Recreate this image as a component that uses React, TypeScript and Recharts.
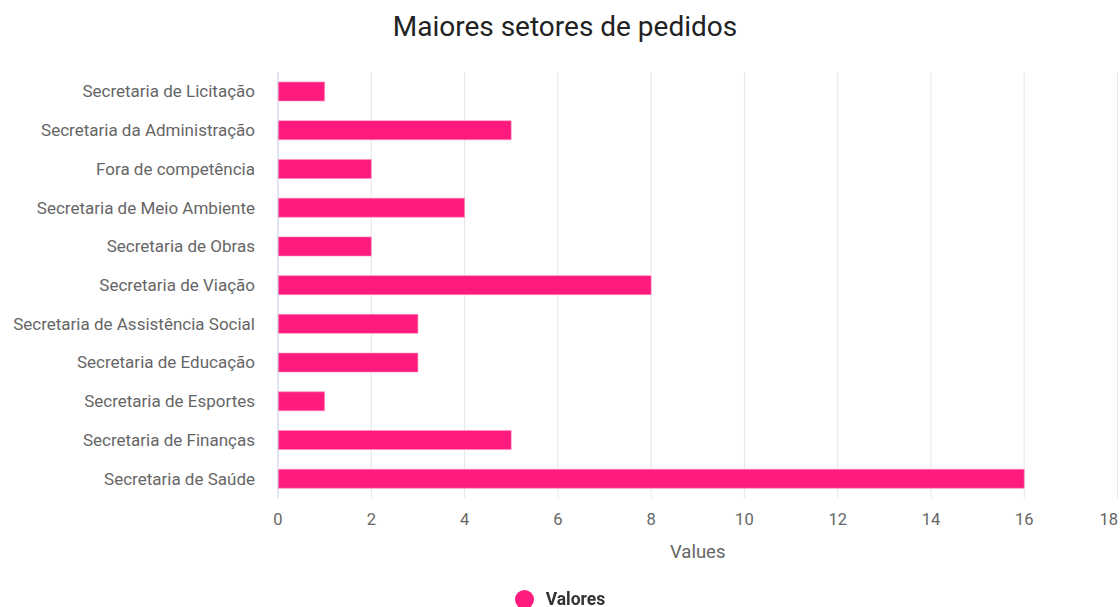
import React from "react";
import { BarChart, Bar, XAxis, YAxis, CartesianGrid, Legend } from "recharts";

const categories = [
  "Secretaria de Licitação",
  "Secretaria da Administração",
  "Fora de competência",
  "Secretaria de Meio Ambiente",
  "Secretaria de Obras",
  "Secretaria de Viação",
  "Secretaria de Assistência Social",
  "Secretaria de Educação",
  "Secretaria de Esportes",
  "Secretaria de Finanças",
  "Secretaria de Saúde",
];
const valores = [1, 5, 2, 4, 2, 8, 3, 3, 1, 5, 16];
const xTicks = [0, 2, 4, 6, 8, 10, 12, 14, 16, 18];

const data = categories.map((name, i) => ({ name, valores: valores[i] }));

const FONT = "Roboto, 'Noto Sans', sans-serif";
const PINK = "#ff1a7e";
const WIDTH = 1120;

// the last label would overflow the right edge, so pull it back inside like the original does
function XTick(props: any) {
  const { x, y, payload } = props;
  const overflow = x + 10 > WIDTH;
  return (
    <text
      x={overflow ? WIDTH - 2 : x}
      y={y}
      dy="0.71em"
      textAnchor={overflow ? "end" : "middle"}
      fill="#666"
      fontSize={16.5}
      fontFamily={FONT}
    >
      {payload.value}
    </text>
  );
}

function LegendContent() {
  return (
    <div style={{ display: "flex", justifyContent: "center", alignItems: "center", gap: 12, height: 24 }}>
      <span style={{ width: 19, height: 19, borderRadius: "50%", background: PINK, display: "inline-block" }} />
      <span style={{ fontFamily: FONT, fontWeight: 700, fontSize: 17.5, color: "#333" }}>Valores</span>
    </div>
  );
}

export default function App() {
  return (
    <div style={{ position: "fixed", left: 0, top: 0, width: WIDTH, height: 607, background: "#fff" }}>
      <div
        style={{
          position: "absolute",
          top: 10,
          left: 0,
          width: 1130,
          textAlign: "center",
          fontFamily: FONT,
          fontSize: 28,
          color: "#222",
        }}
      >
        Maiores setores de pedidos
      </div>
      <BarChart
        width={WIDTH}
        height={607}
        data={data}
        layout="vertical"
        margin={{ top: 72, right: 2.5, bottom: 15, left: 0 }}
      >
        <CartesianGrid horizontal={false} stroke="#e6e6e6" />
        <XAxis
          type="number"
          domain={[0, 18]}
          ticks={xTicks}
          height={70}
          axisLine={false}
          tickLine={false}
          tickSize={0}
          tickMargin={15}
          tick={<XTick />}
          interval={0}
          label={{
            value: "Values",
            position: "insideBottom",
            offset: 10,
            fill: "#666",
            fontSize: 18.5,
            fontFamily: FONT,
          }}
        />
        <YAxis
          type="category"
          dataKey="name"
          width={278}
          axisLine={{ stroke: "#ccd6eb" }}
          tickLine={false}
          tickSize={0}
          tickMargin={23}
          interval={0}
          tick={{ fill: "#666", fontSize: 17, fontFamily: FONT }}
        />
        <Legend
          verticalAlign="bottom"
          content={<LegendContent />}
          wrapperStyle={{ bottom: -4, left: 0, width: WIDTH }}
        />
        <Bar
          dataKey="valores"
          name="Valores"
          fill={PINK}
          stroke="#ff8fbd"
          strokeWidth={0.6}
          barSize={19}
          isAnimationActive={false}
        />
      </BarChart>
    </div>
  );
}
